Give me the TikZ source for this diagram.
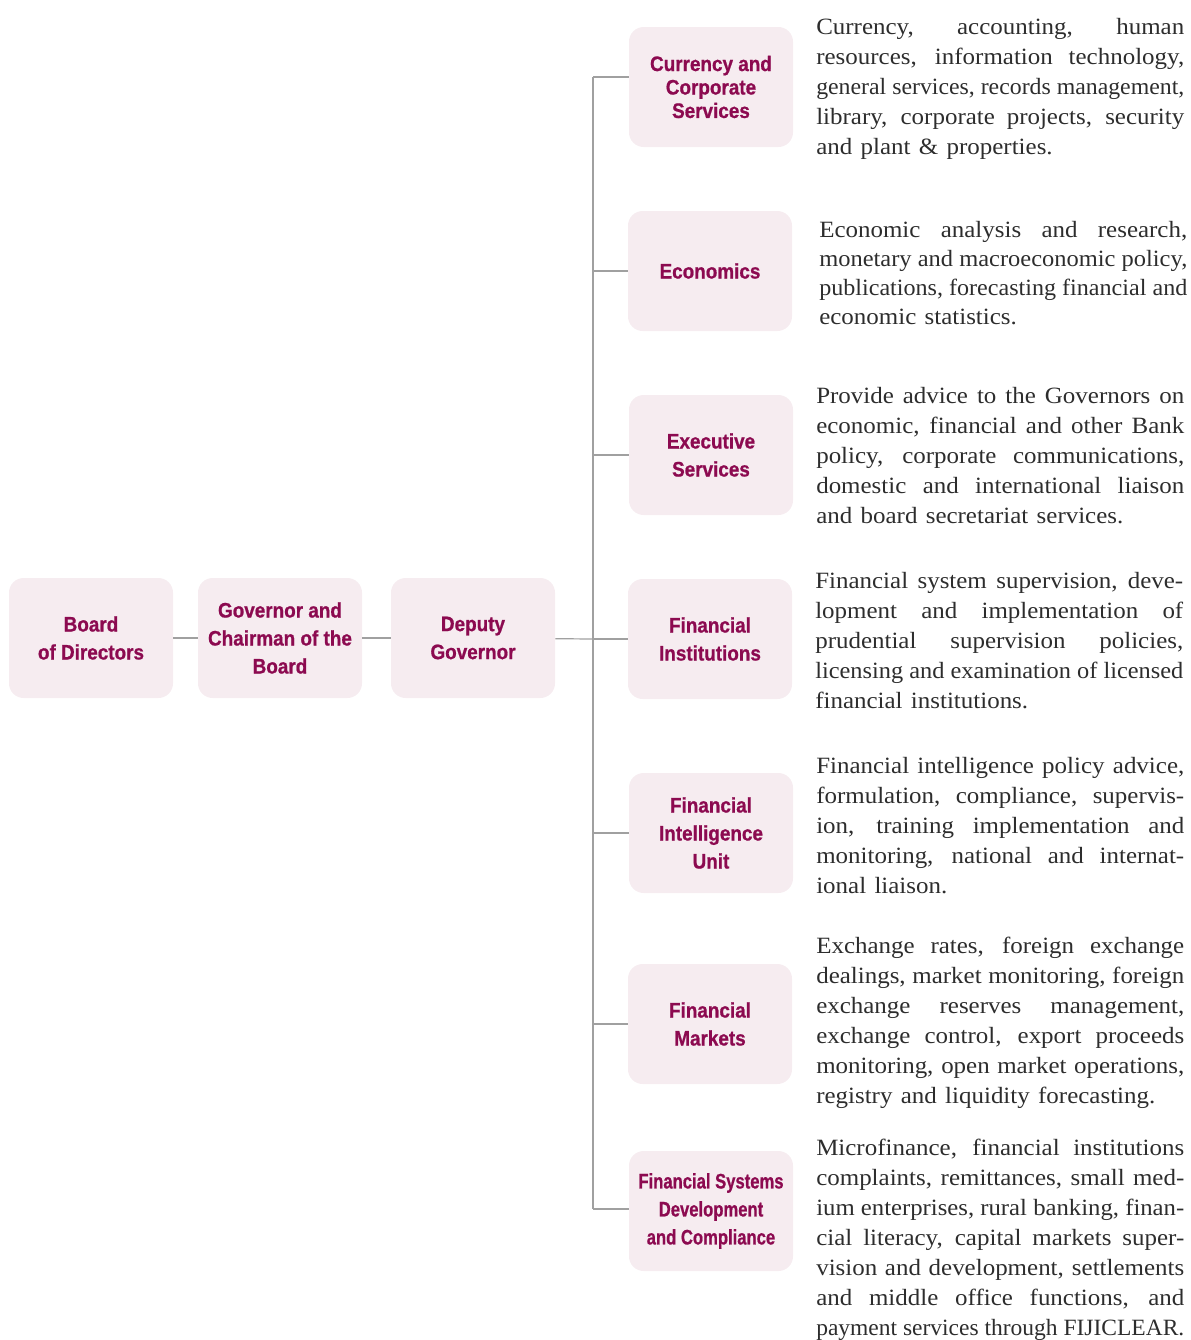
\documentclass[tikz,border=0pt]{standalone}
\usepackage{fontspec}
\setmainfont{Liberation Serif}
\newfontfamily\boxfont[FakeStretch=0.9,FakeBold=0.8]{Liberation Sans}
\definecolor{boxfill}{RGB}{246,236,240}
\definecolor{boxtext}{RGB}{140,10,80}
\definecolor{linegray}{RGB}{160,160,160}
\definecolor{desctext}{RGB}{45,45,45}
\newlength\jlnat
\newlength\jlwidth
\newlength\jlinner
\setlength\jlwidth{276pt}
\setlength\jlinner{257.94pt}
\newcommand\jline[1]{{\spaceskip=0pt\xspaceskip=0pt\settowidth\jlnat{#1}\ifdim\jlnat>\jlinner\resizebox{\jlwidth}{\height}{#1}\else\scalebox{1.07}[1]{\makebox[\jlinner][s]{#1}}\fi}}
\newcommand\lline[1]{\scalebox{1.07}[1]{#1}}
\newcommand\squeeze[1]{\scalebox{0.88}[1]{#1}}
\tikzset{
  orgbox/.style={rounded corners=11pt, fill=boxfill, minimum width=123pt, minimum height=90pt,
    align=center, text=boxtext, inner sep=0pt,
    font=\boxfont\bfseries\fontsize{15.75}{21}\selectfont},
  conn/.style={draw=linegray, line width=0.9pt},
  desc/.style={anchor=base west, inner sep=0pt, text width=276pt, align=left, text=desctext,
    font=\fontsize{17.5}{22.5}\selectfont}
}
\begin{document}
\begin{tikzpicture}[x=0.75pt,y=-0.75pt]
\useasboundingbox (0,0) rectangle (1190,1340);
% left chain
\node[orgbox] (board) at (91,638) {Board\\of Directors};
\node[orgbox] (gov) at (280,638) {Governor and\\Chairman of the\\Board};
\node[orgbox] (dep) at (473,638) {Deputy\\Governor};
% departments
\node[orgbox, font=\boxfont\bfseries\fontsize{15.75}{17.6}\selectfont] (ccs) at (711,87) {Currency and\\Corporate\\Services};
\node[orgbox] (eco) at (710,271) {Economics};
\node[orgbox] (exe) at (711,455) {Executive\\Services};
\node[orgbox] (fin) at (710,639) {Financial\\Institutions};
\node[orgbox] (fiu) at (711,833) {Financial\\Intelligence\\Unit};
\node[orgbox] (fmk) at (710,1024) {Financial\\Markets};
\node[orgbox] (fsd) at (711,1211) {\squeeze{Financial Systems}\\\squeeze{Development}\\\squeeze{and Compliance}};
% connectors
\coordinate (trunk) at (593,639);
\coordinate (ttop) at (593,77);
\coordinate (tbot) at (593,1209);
\draw[conn] (ttop) -- (tbot);
\draw[conn] (board) -- (gov);
\draw[conn] (gov) -- (dep);
\draw[conn] (dep) -- (trunk);
\draw[conn] (ttop) -- (ttop -| ccs.west);
\draw[conn] (eco.west) -- (eco.west -| trunk);
\draw[conn] (exe.west) -- (exe.west -| trunk);
\draw[conn] (fin.west) -- (fin.west -| trunk);
\draw[conn] (fiu.west) -- (fiu.west -| trunk);
\draw[conn] (fmk.west) -- (fmk.west -| trunk);
\draw[conn] (tbot) -- (tbot -| fsd.west);
% descriptions
\node[desc] (d1) at (816,34) {\jline{Currency, accounting, human}\\
\jline{resources, information technology,}\\
\jline{general services, records management,}\\
\jline{library, corporate projects, security}\\
\lline{and plant \& properties.}};
\node[desc, font=\fontsize{17.5}{21.75}\selectfont] (d2) at (819,237.5) {\jline{Economic analysis and research,}\\
\jline{monetary and macroeconomic policy,}\\
\jline{publications, forecasting financial and}\\
\lline{economic statistics.}};
\node[desc] (d3) at (816,403.5) {\jline{Provide advice to the Governors on}\\
\jline{economic, financial and other Bank}\\
\jline{policy, corporate communications,}\\
\jline{domestic and international liaison}\\
\lline{and board secretariat services.}};
\node[desc] (d4) at (815,588.5) {\jline{Financial system supervision, deve-}\\
\jline{lopment and implementation of}\\
\jline{prudential supervision policies,}\\
\jline{licensing and examination of licensed}\\
\lline{financial institutions.}};
\node[desc] (d5) at (816,773.5) {\jline{Financial intelligence policy advice,}\\
\jline{formulation, compliance, supervis-}\\
\jline{ion, training implementation and}\\
\jline{monitoring, national and internat-}\\
\lline{ional liaison.}};
\node[desc] (d6) at (816,953.5) {\jline{Exchange rates, foreign exchange}\\
\jline{dealings, market monitoring, foreign}\\
\jline{exchange reserves management,}\\
\jline{exchange control, export proceeds}\\
\jline{monitoring, open market operations,}\\
\lline{registry and liquidity forecasting.}};
\node[desc] (d7) at (816,1155) {\jline{Microfinance, financial institutions}\\
\jline{complaints, remittances, small med-}\\
\jline{ium enterprises, rural banking, finan-}\\
\jline{cial literacy, capital markets super-}\\
\jline{vision and development, settlements}\\
\jline{and middle office functions, and}\\
\jline{payment services through FIJICLEAR.}};
\end{tikzpicture}
\end{document}
